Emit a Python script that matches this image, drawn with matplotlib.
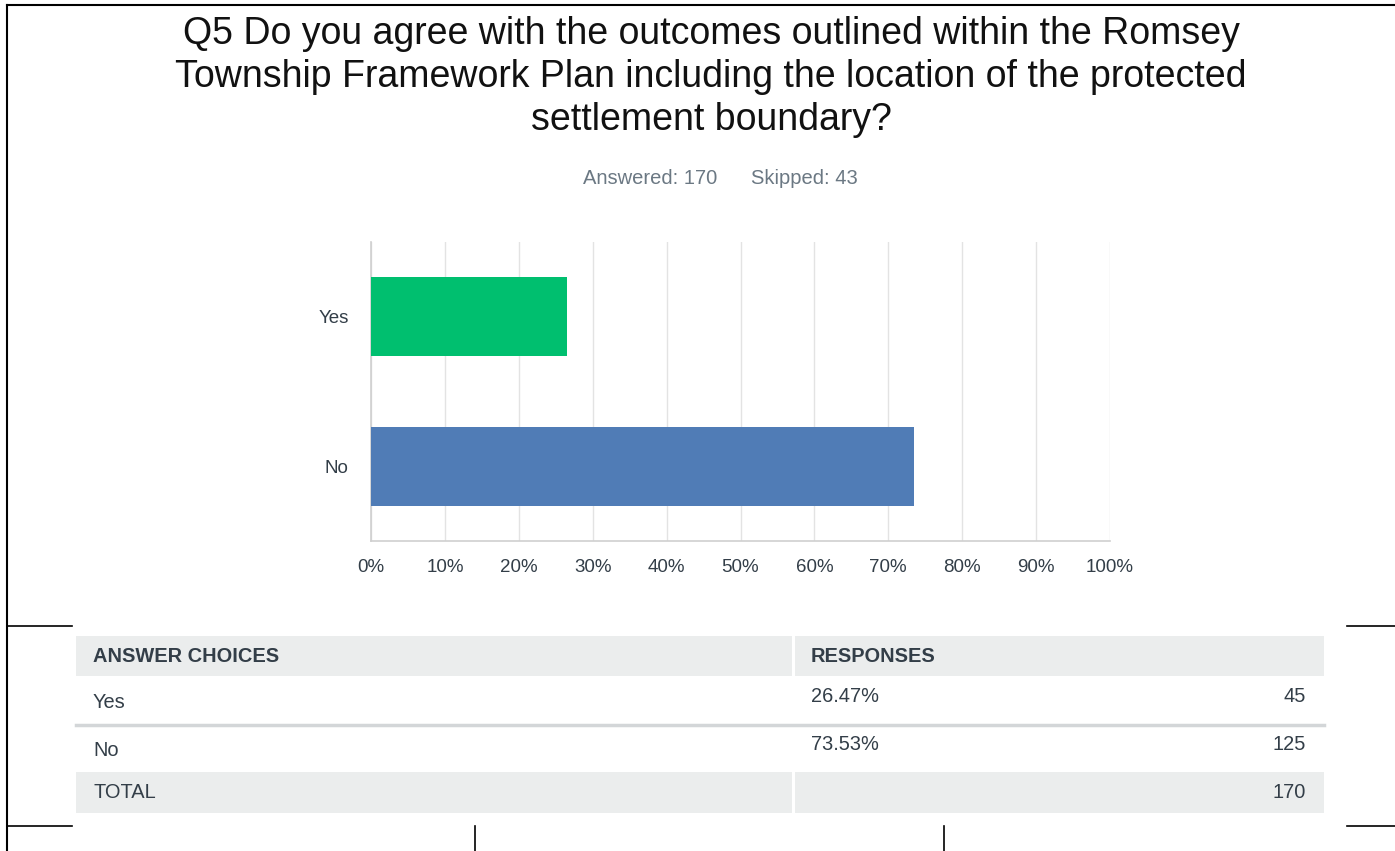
import matplotlib.pyplot as plt
import numpy as np

plt.rcParams['font.family'] = ['Liberation Sans', 'DejaVu Sans']

# Daten
categories = ['Yes', 'No']
percent = [26.47, 73.53]
counts = [45, 125]
total = 170
answered = 170
skipped = 43
bar_colors = ['#00bf6f', '#507cb6']
xticks = np.arange(0, 101, 10)

W, H = 1395, 851
fig = plt.figure(figsize=(W / 100, H / 100), dpi=100)

# Hintergrund-Achse in Pixelkoordinaten
bg = fig.add_axes([0, 0, 1, 1])
bg.set_xlim(0, W)
bg.set_ylim(H, 0)
bg.axis('off')

# Rahmenlinien
bg.plot([7, 7], [5, H], color='black', lw=1.5)
bg.plot([7, W], [5, 5], color='black', lw=1.5)
for y in (626, 826):
    bg.plot([7, 72], [y, y], color='black', lw=1.2)
    bg.plot([1347, W], [y, y], color='black', lw=1.2)
for x in (475, 944):
    bg.plot([x, x], [826, H], color='black', lw=1.2)

# Titel
bg.text(711, 77, 'Q5 Do you agree with the outcomes outlined within the Romsey\n'
        'Township Framework Plan including the location of the protected\n'
        'settlement boundary?', ha='center', va='center', fontsize=27,
        color='#111111', linespacing=1.26)
bg.text(650, 178, f'Answered: {answered}', ha='center', va='center', fontsize=14.5, color='#6b7883')
bg.text(804, 178, f'Skipped: {skipped}', ha='center', va='center', fontsize=14.5, color='#6b7883')

# Balkendiagramm
ax = fig.add_axes([371 / W, (H - 541) / H, 739 / W, 299 / H])
y = np.arange(len(categories))
ax.barh(y, percent, height=0.53, color=bar_colors, zorder=3)
ax.set_xlim(0, 100)
ax.set_ylim(1.5, -0.5)
ax.set_yticks(y)
ax.set_yticklabels(categories)
ax.set_xticks(xticks)
ax.set_xticklabels([f'{v}%' for v in xticks])
ax.tick_params(axis='both', length=0, labelsize=13.5, labelcolor='#333e48')
ax.tick_params(axis='x', pad=13)
ax.tick_params(axis='y', pad=16)
ax.grid(axis='x', color='#e3e3e3', lw=1, zorder=0)
for s in ('top', 'right'):
    ax.spines[s].set_visible(False)
for s in ('left', 'bottom'):
    ax.spines[s].set_color('#cfcfcf')
    ax.spines[s].set_linewidth(1.2)

# Tabelle
gray = '#ebeded'
tc = '#333e48'
fs = 14.4
bg.fill_between([76, 792], 636, 676, color=gray, lw=0)
bg.fill_between([795, 1324], 636, 676, color=gray, lw=0)
bg.fill_between([76, 792], 772, 813, color=gray, lw=0)
bg.fill_between([795, 1324], 772, 813, color=gray, lw=0)
bg.plot([76, 1324], [725, 725], color='#d3d6d8', lw=2.5)

bg.text(93, 657, 'ANSWER CHOICES', fontsize=fs, fontweight='bold', color=tc, va='center')
bg.text(811, 657, 'RESPONSES', fontsize=fs, fontweight='bold', color=tc, va='center')
row_y = [703, 750]
for i, cat in enumerate(categories):
    bg.text(93, row_y[i], cat, fontsize=fs, color=tc, va='center')
    bg.text(811, row_y[i] - 6, f'{percent[i]:.2f}%', fontsize=fs, color=tc, va='center')
    bg.text(1306, row_y[i] - 6, str(counts[i]), fontsize=fs, color=tc, va='center', ha='right')
bg.text(93, 793, 'TOTAL', fontsize=fs, color=tc, va='center')
bg.text(1306, 793, str(total), fontsize=fs, color=tc, va='center', ha='right')

fig.savefig('out.png', dpi=100, facecolor='white')
